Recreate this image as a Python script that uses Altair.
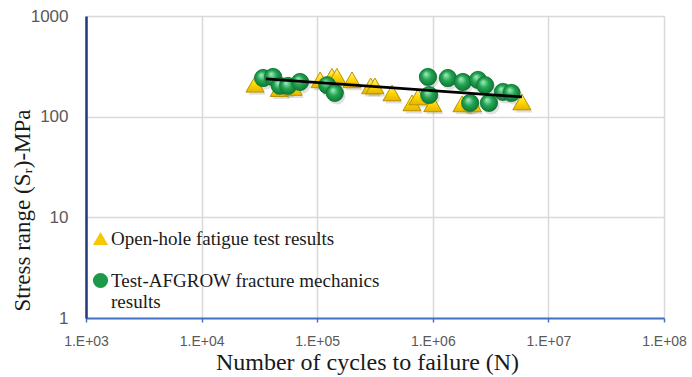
import altair as alt
import pandas as pd

# Open-hole fatigue test results (cycles to failure, stress range in MPa)
open_hole_n = [29000, 47000, 62000, 106000, 134000, 148000, 200000, 290000, 316000,
               444000, 661000, 745000, 1000000, 1790000, 2200000, 5900000]
open_hole_s = [210, 190, 195, 232, 252, 252, 232, 202, 202,
               172, 137, 157, 134, 134, 134, 140]

# Test-AFGROW fracture mechanics results
afgrow_n = [34000, 41500, 47600, 55900, 71000, 122000, 142000, 908000, 930000,
            1350000, 1820000, 2460000, 2830000, 2100000, 3060000, 4050000, 4800000]
afgrow_s = [242, 248, 202, 202, 221, 206, 172, 248, 164,
            242, 221, 232, 206, 137, 137, 176, 172]

# Power-law trend line end points
trend_n = [36000, 5900000]
trend_s = [237, 157]

x_ticks = [1e3, 1e4, 1e5, 1e6, 1e7, 1e8]
y_ticks = [1, 10, 100, 1000]

series_names = ["Open-hole fatigue test results",
                "Test-AFGROW fracture mechanics results"]

tri_df = pd.DataFrame({"n": open_hole_n, "s": open_hole_s, "series": series_names[0]})
circ_df = pd.DataFrame({"n": afgrow_n, "s": afgrow_s, "series": series_names[1]})
trend_df = pd.DataFrame({"n": trend_n, "s": trend_s})
all_df = pd.concat([tri_df, circ_df], ignore_index=True)

serif = "Liberation Serif"
sans = "Liberation Sans"

x_enc = alt.X("n:Q",
              scale=alt.Scale(type="log", domain=[1e3, 1e8], nice=False),
              axis=alt.Axis(values=x_ticks,
                            labelExpr="'1.E+0' + round(log(datum.value) / LN10)",
                            title="Number of cycles to failure (N)",
                            titleFont=serif, titleFontSize=24, titleFontWeight="normal",
                            titleColor="#1a1a1a", titlePadding=2, titleX=281,
                            labelFont=sans, labelFontSize=14, labelColor="#595959",
                            labelPadding=12, labelFlush=False,
                            domainColor="#4472C4", domainWidth=2,
                            tickColor="#4472C4", tickSize=4, tickWidth=1.5,
                            gridColor="#D9D9D9", gridWidth=1.5))
y_enc = alt.Y("s:Q",
              scale=alt.Scale(type="log", domain=[1, 1000], nice=False),
              axis=alt.Axis(values=y_ticks, format="d",
                            title="Stress range (Sᵣ)-MPa",
                            titleFont=serif, titleFontSize=23, titleFontWeight="normal",
                            titleColor="#1a1a1a", titleX=-64, titleY=194,
                            titleAlign="center", titleBaseline="middle",
                            labelFont=sans, labelFontSize=17, labelColor="#595959",
                            labelPadding=18, labelFlush=False,
                            domainColor="#1F3A7A", domainWidth=2.5,
                            ticks=False,
                            gridColor="#D9D9D9", gridWidth=1.5))

circle_fill = {
    "gradient": "radial", "x1": 0.38, "y1": 0.32, "r1": 0.0,
    "x2": 0.5, "y2": 0.5, "r2": 0.6,
    "stops": [{"offset": 0.0, "color": "#a6f0c0"},
              {"offset": 0.45, "color": "#23a553"},
              {"offset": 1.0, "color": "#0b6a2c"}],
}
tri_fill = {
    "gradient": "linear", "x1": 0, "y1": 0, "x2": 0, "y2": 1,
    "stops": [{"offset": 0.0, "color": "#fff6a8"},
              {"offset": 0.5, "color": "#ffd800"},
              {"offset": 1.0, "color": "#e6b400"}],
}

legend_cfg = dict(title=None, orient="none", legendX=5, legendY=213,
                  direction="vertical",
                  labelFont=serif, labelFontSize=19,
                  labelColor="#1a1a1a", labelLimit=400,
                  labelExpr="datum.label == 'Test-AFGROW fracture mechanics results' ? ['Test-AFGROW fracture mechanics', 'results'] : datum.label",
                  symbolSize=230, symbolStrokeWidth=1,
                  rowPadding=22, labelOffset=1)

# Base layer carries the legend (solid colours); shaded markers sit on top.
legend_layer = alt.Chart(all_df).mark_point(filled=True, size=300, opacity=1).encode(
    x=x_enc, y=y_enc,
    shape=alt.Shape("series:N",
                    scale=alt.Scale(domain=series_names, range=["triangle-up", "circle"]),
                    legend=alt.Legend(**legend_cfg)),
    color=alt.Color("series:N",
                    scale=alt.Scale(domain=series_names, range=["#f5c800", "#1c9a4a"]),
                    legend=alt.Legend(**legend_cfg)),
)

shadow = alt.Chart(all_df).mark_point(
    filled=True, size=300, color="#000000", opacity=0.12, xOffset=2, yOffset=3
).encode(x=x_enc, y=y_enc,
         shape=alt.Shape("series:N",
                         scale=alt.Scale(domain=series_names, range=["triangle-up", "circle"]),
                         legend=None))

triangles = alt.Chart(tri_df).mark_point(
    shape="triangle-up", size=330, fill=tri_fill, fillOpacity=1,
    stroke="#b89400", strokeWidth=1, opacity=1
).encode(x=x_enc, y=y_enc)

circles = alt.Chart(circ_df).mark_point(
    shape="circle", size=300, fill=circle_fill, fillOpacity=1,
    stroke="#0e7434", strokeWidth=0.6, opacity=1
).encode(x=x_enc, y=y_enc)

trend = alt.Chart(trend_df).mark_line(color="#000000", strokeWidth=2.8).encode(
    x=x_enc, y=y_enc)

chart = alt.layer(legend_layer, shadow, triangles, circles, trend).resolve_legend(
    shape="shared", color="shared"
).properties(
    width=578, height=302,
    autosize=alt.AutoSizeParams(type="none"),
    padding={"left": 86, "top": 16, "right": 28, "bottom": 59},
    background="#ffffff",
).configure_view(stroke="transparent")

chart.save("out.html", embed_options={"renderer": "svg", "actions": False})
